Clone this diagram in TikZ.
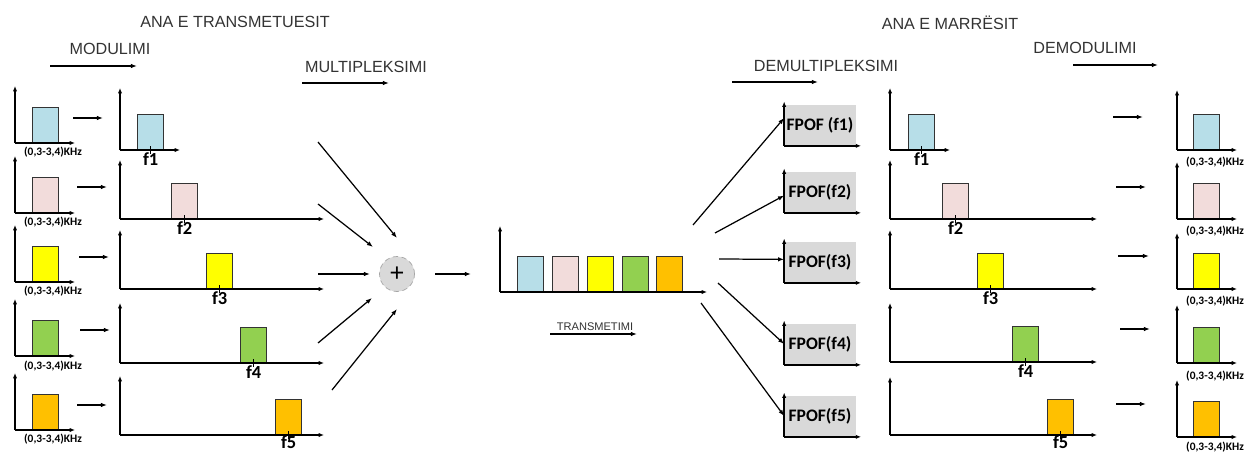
\documentclass[tikz,border=0pt]{standalone}
\usepackage{fontspec}
\setmainfont{Liberation Sans}
\newfontfamily\calib{Carlito}
\usetikzlibrary{positioning,arrows.meta}

\definecolor{bandblue}{HTML}{B7DEE8}
\definecolor{bandpink}{HTML}{F2DCDB}
\definecolor{bandyellow}{HTML}{FFFF00}
\definecolor{bandgreen}{HTML}{92D050}
\definecolor{bandorange}{HTML}{FFC000}
\definecolor{fpofgray}{HTML}{D9D9D9}
\definecolor{headgray}{HTML}{333333}

\begin{document}
\begin{tikzpicture}[x=0.02cm, y=-0.02cm,
    axisarr/.style={line width=0.8pt, -{Latex[length=3pt,width=2.4pt]}},
    arr/.style={line width=0.7pt, -{Latex[length=3.5pt,width=2.6pt]}},
    band/.style={draw=black!80, line width=0.8pt, anchor=south west, inner sep=0pt, minimum width=0.52cm, minimum height=0.7cm},
    freqtick/.style={line width=0.8pt},
    khz/.style={font=\calib\bfseries\fontsize{6.5}{7}\selectfont, inner sep=0pt},
    freq/.style={font=\calib\bfseries\fontsize{10.5}{12}\selectfont, inner sep=0pt},
    headline/.style={font=\fontsize{9.2}{11}\selectfont, text=headgray, inner sep=0pt},
    fpof/.style={fill=fpofgray, inner sep=0pt, minimum width=1.42cm, minimum height=0.82cm, font=\calib\bfseries\fontsize{10}{12}\selectfont},
    summer/.style={circle, fill=fpofgray, draw=black!35, densely dashed, minimum size=0.7cm, inner sep=0pt}
]
  \useasboundingbox (0,0) rectangle (1251,453);
  % Headlines
  \node[headline] (tx) at (235,22) {ANA E TRANSMETUESIT};
  \node[headline] (rx) at (950,23) {ANA E MARRËSIT};
  \node[headline] (mod) at (110,49) {MODULIMI};
  \node[headline] (mux) at (366,67) {MULTIPLEKSIMI};
  \node[headline] (demux) at (826,66) {DEMULTIPLEKSIMI};
  \node[headline] (demod) at (1085,48) {DEMODULIMI};
  \node[headline, font=\fontsize{6.3}{8}\selectfont] (trans) at (595,327) {TRANSMETIMI};
  \coordinate (moda) at (50,66);   \coordinate (modb) at (137,66);
  \coordinate (muxa) at (302,83);  \coordinate (muxb) at (389,83);
  \coordinate (dmxa) at (732,82);  \coordinate (dmxb) at (818,82);
  \coordinate (dmda) at (1073,65); \coordinate (dmdb) at (1158,65);
  \coordinate (trna) at (550,334); \coordinate (trnb) at (637,334);
  \draw[arr] (moda) -- (modb);
  \draw[arr] (muxa) -- (muxb);
  \draw[arr] (dmxa) -- (dmxb);
  \draw[arr] (dmda) -- (dmdb);
  \draw[arr] (trna) -- (trnb);

  % Source spectra
  \node[band, fill=bandblue] (s1) at (32,143) {};
  \node[band, fill=bandpink] (s2) at (32,213) {};
  \node[band, fill=bandyellow] (s3) at (32,282) {};
  \node[band, fill=bandgreen] (s4) at (32,356) {};
  \node[band, fill=bandorange] (s5) at (32,430) {};
  \coordinate (so1) at (15,143); \coordinate (sy1) at (15,86);  \coordinate (sx1) at (75,143);
  \coordinate (so2) at (15,213); \coordinate (sy2) at (15,156); \coordinate (sx2) at (75,213);
  \coordinate (so3) at (15,282); \coordinate (sy3) at (15,225); \coordinate (sx3) at (75,282);
  \coordinate (so4) at (15,356); \coordinate (sy4) at (15,299); \coordinate (sx4) at (75,356);
  \coordinate (so5) at (15,430); \coordinate (sy5) at (15,373); \coordinate (sx5) at (75,430);
  \draw[axisarr] (so1) -- (sy1); \draw[axisarr] (so1) -- (sx1);
  \draw[axisarr] (so2) -- (sy2); \draw[axisarr] (so2) -- (sx2);
  \draw[axisarr] (so3) -- (sy3); \draw[axisarr] (so3) -- (sx3);
  \draw[axisarr] (so4) -- (sy4); \draw[axisarr] (so4) -- (sx4);
  \draw[axisarr] (so5) -- (sy5); \draw[axisarr] (so5) -- (sx5);
  \node[khz] (sl1) at (53,152) {(0,3-3,4)KHz};
  \node[khz] (sl2) at (53,222) {(0,3-3,4)KHz};
  \node[khz] (sl3) at (53,291) {(0,3-3,4)KHz};
  \node[khz] (sl4) at (53,366) {(0,3-3,4)KHz};
  \node[khz] (sl5) at (53,439) {(0,3-3,4)KHz};

  % Modulation arrows
  \coordinate (sm1a) at (73,118); \coordinate (sm1b) at (103,118);
  \coordinate (sm2a) at (77,187); \coordinate (sm2b) at (107,187);
  \coordinate (sm3a) at (79,257); \coordinate (sm3b) at (109,257);
  \coordinate (sm4a) at (80,330); \coordinate (sm4b) at (110,330);
  \coordinate (sm5a) at (77,405); \coordinate (sm5b) at (107,405);
  \draw[arr] (sm1a) -- (sm1b);
  \draw[arr] (sm2a) -- (sm2b);
  \draw[arr] (sm3a) -- (sm3b);
  \draw[arr] (sm4a) -- (sm4b);
  \draw[arr] (sm5a) -- (sm5b);

  % Modulated spectra
  \node[band, fill=bandblue] (m1) at (137,150) {};
  \node[band, fill=bandpink] (m2) at (171,219) {};
  \node[band, fill=bandyellow] (m3) at (206,289) {};
  \node[band, fill=bandgreen] (m4) at (240,363) {};
  \node[band, fill=bandorange] (m5) at (275,435) {};
  \coordinate (mo1) at (120,150); \coordinate (my1) at (120,88);  \coordinate (mx1) at (180,150);
  \coordinate (mo2) at (120,219); \coordinate (my2) at (120,160); \coordinate (mx2) at (324,219);
  \coordinate (mo3) at (120,289); \coordinate (my3) at (120,230); \coordinate (mx3) at (324,289);
  \coordinate (mo4) at (120,363); \coordinate (my4) at (120,303); \coordinate (mx4) at (324,363);
  \coordinate (mo5) at (120,435); \coordinate (my5) at (120,376); \coordinate (mx5) at (324,435);
  \draw[axisarr] (mo1) -- (my1); \draw[axisarr] (mo1) -- (mx1);
  \draw[axisarr] (mo2) -- (my2); \draw[axisarr] (mo2) -- (mx2);
  \draw[axisarr] (mo3) -- (my3); \draw[axisarr] (mo3) -- (mx3);
  \draw[axisarr] (mo4) -- (my4); \draw[axisarr] (mo4) -- (mx4);
  \draw[axisarr] (mo5) -- (my5); \draw[axisarr] (mo5) -- (mx5);
  \draw[freqtick] ([yshift=2pt]m1.south) -- ([yshift=-2.5pt]m1.south);
  \draw[freqtick] ([yshift=2pt]m2.south) -- ([yshift=-2.5pt]m2.south);
  \draw[freqtick] ([yshift=2pt]m3.south) -- ([yshift=-2.5pt]m3.south);
  \draw[freqtick] ([yshift=2pt]m4.south) -- ([yshift=-2.5pt]m4.south);
  \draw[freqtick] ([yshift=2pt]m5.south) -- ([yshift=-2.5pt]m5.south);
  \node[freq, below=1.5pt of m1.south] (mf1) {f1};
  \node[freq, below=1.5pt of m2.south] (mf2) {f2};
  \node[freq, below=1.5pt of m3.south] (mf3) {f3};
  \node[freq, below=1.5pt of m4.south] (mf4) {f4};
  \node[freq, below=0pt of m5.south] (mf5) {f5};

  % Summer
  \node[summer] (sum) at (397,274) {\Large +};
  \coordinate (in1a) at (318,142); \coordinate (in1b) at (397,238);
  \coordinate (in2a) at (318,204); \coordinate (in2b) at (373,247);
  \coordinate (in3a) at (318,274); \coordinate (in3b) at (370,274);
  \coordinate (in4a) at (318,343); \coordinate (in4b) at (372,298);
  \coordinate (in5a) at (332,390); \coordinate (in5b) at (397,309);
  \coordinate (outa) at (435,274); \coordinate (outb) at (471,274);
  \draw[arr] (in1a) -- (in1b);
  \draw[arr] (in2a) -- (in2b);
  \draw[arr] (in3a) -- (in3b);
  \draw[arr] (in4a) -- (in4b);
  \draw[arr] (in5a) -- (in5b);
  \draw[arr] (outa) -- (outb);

  % Multiplexed spectrum
  \node[band, fill=bandblue] (x1) at (517,292) {};
  \node[band, fill=bandpink] (x2) at (552,292) {};
  \node[band, fill=bandyellow] (x3) at (587,292) {};
  \node[band, fill=bandgreen] (x4) at (622,292) {};
  \node[band, fill=bandorange] (x5) at (656,292) {};
  \coordinate (xo) at (500,292); \coordinate (xy) at (500,226); \coordinate (xx) at (707,292);
  \draw[axisarr] (xo) -- (xy); \draw[axisarr] (xo) -- (xx);

  % Band-pass filters
  \node[fpof] (fp1) at (820,125) {FPOF (f1)};
  \node[fpof] (fp2) at (820,192) {FPOF(f2)};
  \node[fpof] (fp3) at (820,262) {FPOF(f3)};
  \node[fpof] (fp4) at (820,344) {FPOF(f4)};
  \node[fpof] (fp5) at (820,416) {FPOF(f5)};
  \draw[axisarr] (fp1.south west) -- ([yshift=1.5pt]fp1.north west); \draw[axisarr] (fp1.south west) -- ([xshift=3pt]fp1.south east);
  \draw[axisarr] (fp2.south west) -- ([yshift=1.5pt]fp2.north west); \draw[axisarr] (fp2.south west) -- ([xshift=3pt]fp2.south east);
  \draw[axisarr] (fp3.south west) -- ([yshift=1.5pt]fp3.north west); \draw[axisarr] (fp3.south west) -- ([xshift=3pt]fp3.south east);
  \draw[axisarr] (fp4.south west) -- ([yshift=1.5pt]fp4.north west); \draw[axisarr] (fp4.south west) -- ([xshift=3pt]fp4.south east);
  \draw[axisarr] (fp5.south west) -- ([yshift=1.5pt]fp5.north west); \draw[axisarr] (fp5.south west) -- ([xshift=3pt]fp5.south east);
  \coordinate (dx1) at (693,225);
  \coordinate (dx2) at (715,233);
  \coordinate (dx3) at (719,259);
  \coordinate (dx4) at (718,283);
  \coordinate (dx5) at (701,303);
  \draw[arr] (dx1) -- ([yshift=4pt]fp1.west);
  \draw[arr] (dx2) -- ([yshift=-2pt]fp2.west);
  \draw[arr] (dx3) -- ([yshift=1.5pt]fp3.west);
  \draw[arr] (dx4) -- (fp4.west);
  \draw[arr] (dx5) -- (fp5.west);

  % Demodulator input spectra
  \node[band, fill=bandblue] (d1) at (908,150) {};
  \node[band, fill=bandpink] (d2) at (942,219) {};
  \node[band, fill=bandyellow] (d3) at (977,289) {};
  \node[band, fill=bandgreen] (d4) at (1012,362) {};
  \node[band, fill=bandorange] (d5) at (1047,435) {};
  \coordinate (do1) at (890,150); \coordinate (dy1) at (890,88);  \coordinate (dxe1) at (950,150);
  \coordinate (do2) at (890,219); \coordinate (dy2) at (890,160); \coordinate (dxe2) at (1097,219);
  \coordinate (do3) at (890,289); \coordinate (dy3) at (890,230); \coordinate (dxe3) at (1097,289);
  \coordinate (do4) at (890,362); \coordinate (dy4) at (890,303); \coordinate (dxe4) at (1097,362);
  \coordinate (do5) at (890,435); \coordinate (dy5) at (890,377); \coordinate (dxe5) at (1097,435);
  \draw[axisarr] (do1) -- (dy1); \draw[axisarr] (do1) -- (dxe1);
  \draw[axisarr] (do2) -- (dy2); \draw[axisarr] (do2) -- (dxe2);
  \draw[axisarr] (do3) -- (dy3); \draw[axisarr] (do3) -- (dxe3);
  \draw[axisarr] (do4) -- (dy4); \draw[axisarr] (do4) -- (dxe4);
  \draw[axisarr] (do5) -- (dy5); \draw[axisarr] (do5) -- (dxe5);
  \draw[freqtick] ([yshift=2pt]d1.south) -- ([yshift=-2.5pt]d1.south);
  \draw[freqtick] ([yshift=2pt]d2.south) -- ([yshift=-2.5pt]d2.south);
  \draw[freqtick] ([yshift=2pt]d3.south) -- ([yshift=-2.5pt]d3.south);
  \draw[freqtick] ([yshift=2pt]d4.south) -- ([yshift=-2.5pt]d4.south);
  \draw[freqtick] ([yshift=2pt]d5.south) -- ([yshift=-2.5pt]d5.south);
  \node[freq, below=1.5pt of d1.south] (df1) {f1};
  \node[freq, below=1.5pt of d2.south] (df2) {f2};
  \node[freq, below=1.5pt of d3.south] (df3) {f3};
  \node[freq, below=1.5pt of d4.south] (df4) {f4};
  \node[freq, below=0pt of d5.south] (df5) {f5};

  % Demodulation arrows
  \coordinate (dr1a) at (1113,117); \coordinate (dr1b) at (1143,117);
  \coordinate (dr2a) at (1116,187); \coordinate (dr2b) at (1146,187);
  \coordinate (dr3a) at (1118,256); \coordinate (dr3b) at (1149,256);
  \coordinate (dr4a) at (1120,329); \coordinate (dr4b) at (1150,329);
  \coordinate (dr5a) at (1116,404); \coordinate (dr5b) at (1146,404);
  \draw[arr] (dr1a) -- (dr1b);
  \draw[arr] (dr2a) -- (dr2b);
  \draw[arr] (dr3a) -- (dr3b);
  \draw[arr] (dr4a) -- (dr4b);
  \draw[arr] (dr5a) -- (dr5b);

  % Recovered spectra
  \node[band, fill=bandblue] (r1) at (1193,150) {};
  \node[band, fill=bandpink] (r2) at (1193,219) {};
  \node[band, fill=bandyellow] (r3) at (1193,289) {};
  \node[band, fill=bandgreen] (r4) at (1193,363) {};
  \node[band, fill=bandorange] (r5) at (1193,437) {};
  \coordinate (ro1) at (1177,150); \coordinate (ry1) at (1177,90);  \coordinate (rx1) at (1237,150);
  \coordinate (ro2) at (1177,219); \coordinate (ry2) at (1177,162); \coordinate (rx2) at (1237,219);
  \coordinate (ro3) at (1177,289); \coordinate (ry3) at (1177,233); \coordinate (rx3) at (1237,289);
  \coordinate (ro4) at (1177,363); \coordinate (ry4) at (1177,305); \coordinate (rx4) at (1237,363);
  \coordinate (ro5) at (1177,437); \coordinate (ry5) at (1177,380); \coordinate (rx5) at (1237,437);
  \draw[axisarr] (ro1) -- (ry1); \draw[axisarr] (ro1) -- (rx1);
  \draw[axisarr] (ro2) -- (ry2); \draw[axisarr] (ro2) -- (rx2);
  \draw[axisarr] (ro3) -- (ry3); \draw[axisarr] (ro3) -- (rx3);
  \draw[axisarr] (ro4) -- (ry4); \draw[axisarr] (ro4) -- (rx4);
  \draw[axisarr] (ro5) -- (ry5); \draw[axisarr] (ro5) -- (rx5);
  \node[khz] (rl1) at (1215,162) {(0,3-3,4)KHz};
  \node[khz] (rl2) at (1215,231) {(0,3-3,4)KHz};
  \node[khz] (rl3) at (1215,301) {(0,3-3,4)KHz};
  \node[khz] (rl4) at (1215,376) {(0,3-3,4)KHz};
  \node[khz] (rl5) at (1215,447) {(0,3-3,4)KHz};
\end{tikzpicture}
\end{document}
